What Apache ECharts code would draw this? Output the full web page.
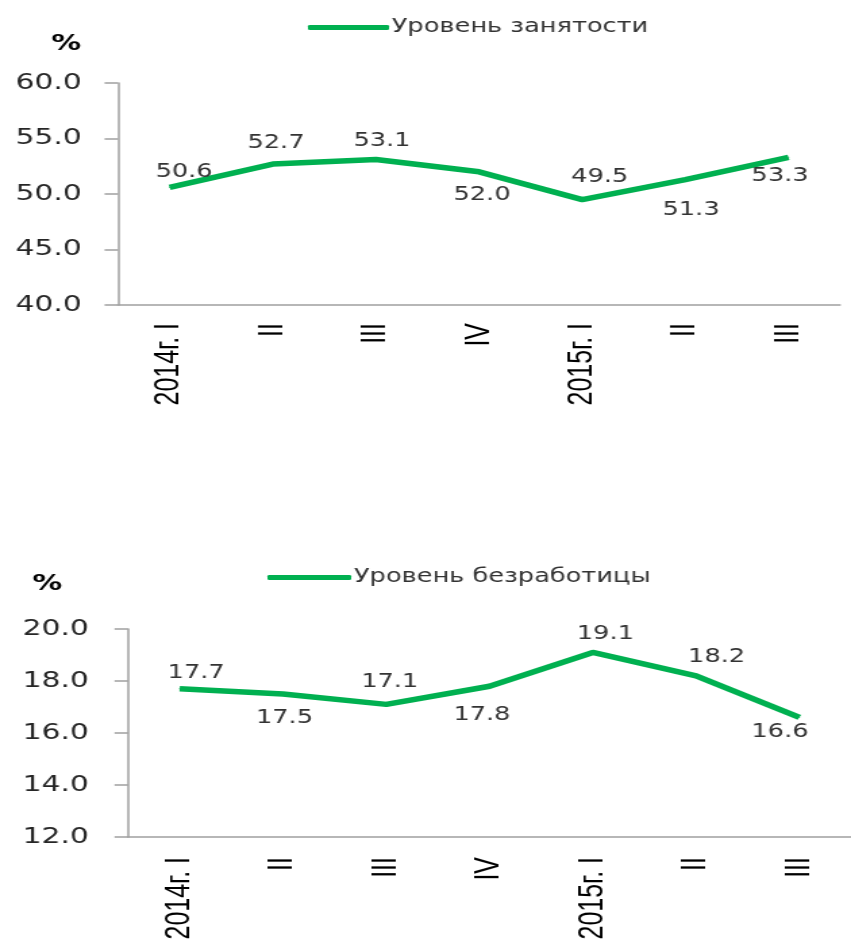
<!DOCTYPE html>
<html>
<head>
<meta charset="utf-8">
<script src="https://cdn.jsdelivr.net/npm/echarts@6/dist/echarts.min.js"></script>
<style>
    html, body { margin: 0; padding: 0; background: #fff; overflow: hidden; }
    /* исходная картинка растянута по горизонтали, поэтому рисуем уже и растягиваем */
    #chart { width: 630px; height: 945px; transform: scaleX(1.3508); transform-origin: 0 0; }
</style>
</head>
<body>
<div id="chart"></div>
<script>
// Кварталы
const quarters = ['2014г. I', 'II', 'III', 'IV', '2015г. I', 'II', 'III'];

// Уровень занятости, %
const employment = [50.6, 52.7, 53.1, 52.0, 49.5, 51.3, 53.3];
// Уровень безработицы, %
const unemployment = [17.7, 17.5, 17.1, 17.8, 19.1, 18.2, 16.6];

const employmentName = 'Уровень занятости';
const unemploymentName = 'Уровень безработицы';

// смещения подписей значений относительно точки (dx, dy)
const employmentLabelShift = [[10.7, -15], [2.4, -21], [4.5, -19], [2.2, 23], [13, -22.5], [4.2, 30], [-6.2, 18.6]];
const unemploymentLabelShift = [[12.2, -15.3], [1.1, 24.5], [2.6, -22.4], [-5.6, 28.8], [9.3, -17.9], [15.2, -18.3], [-14.4, 15.1]];

const GREEN = '#00b050';
const AXIS = '#a0a0a0';
const FONT = 'DejaVu Sans, Verdana, sans-serif';

function withLabels(values, shifts) {
    return values.map((v, i) => ({ value: v, label: { offset: shifts[i] } }));
}

function xAxisFor(grid, margin) {
    return {
        type: 'category',
        gridIndex: grid,
        data: quarters,
        boundaryGap: true,
        axisLine: { lineStyle: { color: AXIS, width: 1.5 } },
        axisTick: { show: false },
        axisLabel: {
            rotate: 90,
            margin: margin,
            interval: 0,
            color: '#000',
            fontSize: 25,
            fontFamily: 'Liberation Sans, Arial, sans-serif'
        }
    };
}

function yAxisFor(grid, min, max, interval, margin) {
    return {
        type: 'value',
        gridIndex: grid,
        min: min,
        max: max,
        interval: interval,
        splitLine: { show: false },
        axisLine: { show: true, lineStyle: { color: AXIS, width: 1.5 } },
        axisTick: { show: true, length: 10, lineStyle: { color: AXIS, width: 1.5 } },
        axisLabel: {
            margin: margin,
            color: '#262626',
            fontSize: 22,
            fontFamily: FONT,
            formatter: v => v.toFixed(1)
        }
    };
}

function lineSeries(name, idx, data) {
    return {
        name: name,
        type: 'line',
        xAxisIndex: idx,
        yAxisIndex: idx,
        data: data,
        symbol: 'circle',
        symbolSize: 1,
        showSymbol: true,
        itemStyle: { color: GREEN },
        lineStyle: { color: GREEN, width: 5.5 },
        label: {
            show: true,
            position: 'inside',
            align: 'center',
            verticalAlign: 'middle',
            color: '#333',
            fontSize: 19,
            fontFamily: FONT,
            formatter: p => p.value.toFixed(1)
        },
        animation: false
    };
}

function legendFor(name, left, top, width) {
    return {
        data: [name],
        left: left,
        top: top,
        icon: 'roundRect',
        itemWidth: width,
        itemHeight: 5,
        selectedMode: false,
        textStyle: { color: '#333', fontSize: 19, fontFamily: FONT, padding: [0, 0, 0, -3] }
    };
}

var myChart = echarts.init(document.getElementById('chart'));
var option;

option = {
    backgroundColor: '#fff',
    animation: false,
    legend: [
        legendFor(employmentName, 223, 13, 60),
        legendFor(unemploymentName, 193, 563, 62)
    ],
    grid: [
        { left: 87.4, top: 83, width: 534.5, height: 222 },
        { left: 94.8, top: 629, width: 544.1, height: 208 }
    ],
    xAxis: [xAxisFor(0, 18), xAxisFor(1, 20)],
    yAxis: [yAxisFor(0, 40, 60, 5, 27), yAxisFor(1, 12, 20, 2, 29)],
    graphic: [
        {
            type: 'text', left: 38, top: 33,
            style: { text: '%', font: 'bold 22px ' + FONT, fill: '#000' }
        },
        {
            type: 'text', left: 24, top: 573,
            style: { text: '%', font: 'bold 22px ' + FONT, fill: '#000' }
        }
    ],
    series: [
        lineSeries(employmentName, 0, withLabels(employment, employmentLabelShift)),
        lineSeries(unemploymentName, 1, withLabels(unemployment, unemploymentLabelShift))
    ]
};

option && myChart.setOption(option);
</script>
</body>
</html>
